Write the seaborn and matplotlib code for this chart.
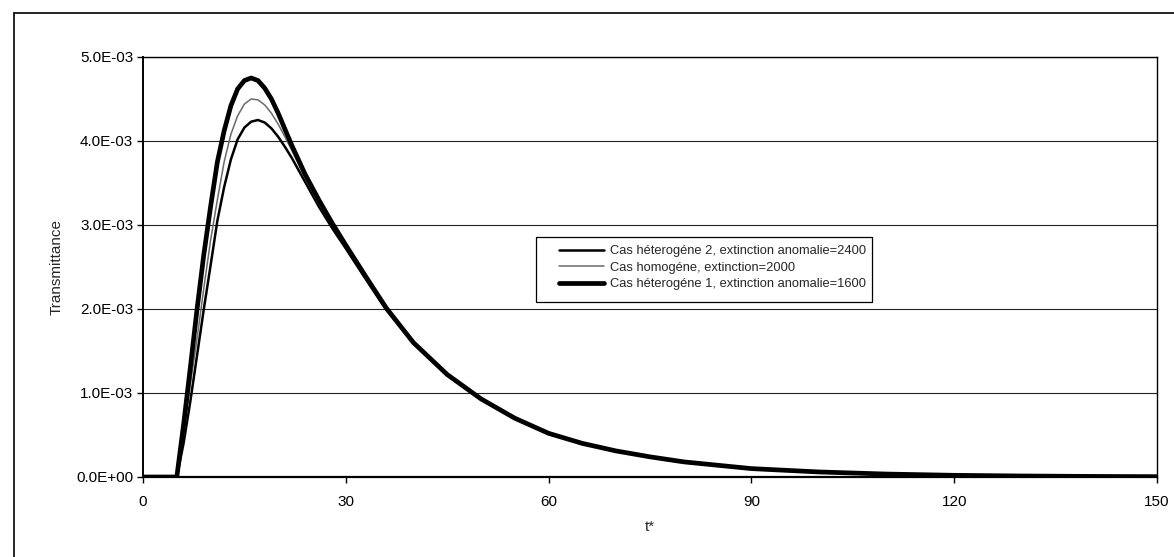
import numpy as np
import pandas as pd
import matplotlib
matplotlib.use("Agg")
import matplotlib.pyplot as plt
from matplotlib.lines import Line2D
from matplotlib.patches import Rectangle
import seaborn as sns

# Dimensionless time t*
t_star = [0, 5, 6, 7, 8, 9, 10, 11, 12, 13, 14, 15, 16, 17, 18, 19, 20, 21, 22,
          24, 26, 28, 30, 33, 36, 40, 45, 50, 55, 60, 65, 70, 75, 80, 90, 100,
          110, 120, 130, 140, 150]

# Transmittance (x 1e-3) for each case
het2_2400 = [0, 0, 0.40, 0.90, 1.45, 2.00, 2.52, 3.05, 3.45, 3.78, 4.02, 4.16, 4.23,
             4.25, 4.22, 4.15, 4.05, 3.93, 3.80, 3.51, 3.22, 2.96, 2.72, 2.35, 1.99,
             1.60, 1.22, 0.93, 0.70, 0.52, 0.40, 0.31, 0.24, 0.18, 0.10, 0.06, 0.035,
             0.02, 0.012, 0.007, 0.004]
homog_2000 = [0, 0, 0.50, 1.10, 1.65, 2.25, 2.82, 3.30, 3.75, 4.08, 4.30, 4.44, 4.50,
              4.49, 4.43, 4.33, 4.20, 4.05, 3.89, 3.56, 3.26, 2.99, 2.74, 2.37, 2.00,
              1.60, 1.22, 0.93, 0.70, 0.52, 0.40, 0.31, 0.24, 0.18, 0.10, 0.06, 0.035,
              0.02, 0.012, 0.007, 0.004]
het1_1600 = [0, 0, 0.62, 1.30, 2.00, 2.65, 3.22, 3.75, 4.12, 4.42, 4.62, 4.72, 4.75,
             4.72, 4.63, 4.50, 4.33, 4.14, 3.95, 3.60, 3.30, 3.02, 2.76, 2.38, 2.01,
             1.60, 1.22, 0.93, 0.70, 0.52, 0.40, 0.31, 0.24, 0.18, 0.10, 0.06, 0.035,
             0.02, 0.012, 0.007, 0.004]

labels = ["Cas héterogéne 2, extinction anomalie=2400",
          "Cas homogéne, extinction=2000",
          "Cas héterogéne 1, extinction anomalie=1600"]
series = [het2_2400, homog_2000, het1_1600]
colors = ["#000000", "#6a6a6a", "#000000"]
widths = [1.8, 1.1, 3.4]

x_ticks = [0, 30, 60, 90, 120, 150]
y_ticks = [0.0, 1.0e-3, 2.0e-3, 3.0e-3, 4.0e-3, 5.0e-3]
y_tick_labels = ["0.0E+00", "1.0E-03", "2.0E-03", "3.0E-03", "4.0E-03", "5.0E-03"]

frames = []
for lab, vals in zip(labels, series):
    frames.append(pd.DataFrame({"t": t_star,
                                "T": np.array(vals) * 1e-3,
                                "case": lab}))
df = pd.concat(frames, ignore_index=True)

sns.set_style("white")
plt.rcParams["font.family"] = ["Liberation Sans", "DejaVu Sans"]

fig = plt.figure(figsize=(11.74, 5.57), dpi=100)
ax = fig.add_axes([143 / 1174, 1 - 477 / 557, (1157 - 143) / 1174, (477 - 57) / 557])

for lab, c, w in zip(labels, colors, widths):
    sns.lineplot(data=df[df["case"] == lab], x="t", y="T", ax=ax,
                 color=c, linewidth=w, label=lab, legend=False,
                 solid_joinstyle="round")

ax.set_xlim(0, 150)
ax.set_ylim(0, 5.0e-3)
ax.set_xticks(x_ticks)
ax.set_xticklabels([str(v) for v in x_ticks])
ax.set_yticks(y_ticks)
ax.set_yticklabels(y_tick_labels)
ax.tick_params(axis="both", which="major", labelsize=11, color="black",
               length=4, width=1, direction="out", pad=3, labelcolor="black")
ax.tick_params(axis="x", pad=9)
ax.tick_params(axis="y", left=True)
ax.tick_params(axis="x", bottom=True)

ax.yaxis.grid(True, color="#222222", linewidth=0.8)
ax.xaxis.grid(False)
ax.set_axisbelow(True)

for side, lw in [("left", 1.4), ("bottom", 1.6), ("top", 1.0), ("right", 1.0)]:
    ax.spines[side].set_visible(True)
    ax.spines[side].set_color("black")
    ax.spines[side].set_linewidth(lw)

ax.set_xlabel("t*", fontsize=11, labelpad=8)
ax.set_ylabel("Transmittance", fontsize=11, labelpad=9)

# Legend box with line samples
fig.add_artist(Rectangle((536 / 1174, 1 - 302 / 557), (872 - 536) / 1174,
                         (302 - 237) / 557, transform=fig.transFigure,
                         facecolor="white", edgecolor="black", linewidth=0.9,
                         zorder=5))
handles = [Line2D([], [], color=c, linewidth=w) for c, w in zip(colors, widths)]
leg = fig.legend(handles, labels, loc="upper left",
                 bbox_to_anchor=(550 / 1174, 1 - 236 / 557),
                 frameon=False, fontsize=9.3, handlelength=3.5,
                 handletextpad=0.45, labelspacing=0.36, borderpad=0.2)
leg.set_zorder(6)

# Outer chart frame
fig.add_artist(Line2D([14 / 1174, 1.0], [1 - 13 / 557, 1 - 13 / 557],
                      transform=fig.transFigure, color="black", linewidth=1.2))
fig.add_artist(Line2D([14 / 1174, 14 / 1174], [0.0, 1 - 13 / 557],
                      transform=fig.transFigure, color="black", linewidth=1.2))

fig.savefig("out.png", dpi=100, facecolor="white")
